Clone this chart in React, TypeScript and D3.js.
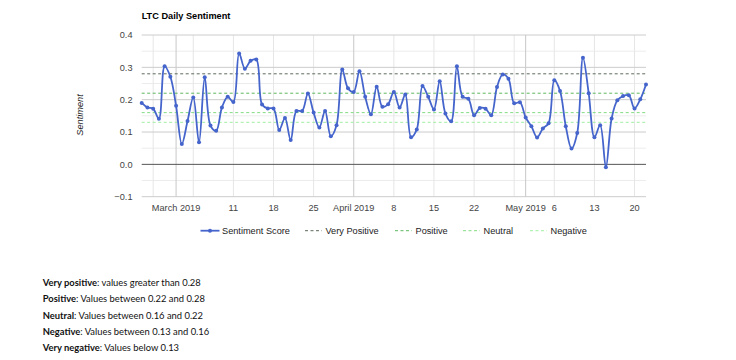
import React from "react";
import * as d3 from "d3";

const startDate = "2019-02-23";
const sentiment: number[] = [
  0.190, 0.176, 0.172, 0.141, 0.303, 0.271,
  0.181, 0.063, 0.134, 0.207, 0.068, 0.269, 0.120, 0.104, 0.176, 0.209,
  0.193, 0.343, 0.296, 0.320, 0.324, 0.185, 0.173, 0.173, 0.106, 0.143,
  0.075, 0.165, 0.165, 0.219, 0.160, 0.114, 0.165, 0.087, 0.121, 0.293,
  0.235,
  0.224, 0.288, 0.209, 0.155, 0.240, 0.178, 0.186, 0.224, 0.176, 0.216,
  0.084, 0.108, 0.242, 0.209, 0.170, 0.257, 0.157, 0.133, 0.303, 0.209,
  0.203, 0.152, 0.174, 0.172, 0.152, 0.239, 0.278, 0.265, 0.189, 0.192,
  0.145, 0.118, 0.083, 0.111, 0.127, 0.260, 0.227, 0.118, 0.049, 0.097,
  0.330, 0.220, 0.084, 0.121, -0.009, 0.142, 0.198, 0.211, 0.214, 0.173,
  0.201, 0.247,
];

const thresholdNames = ["Very Positive", "Positive", "Neutral", "Negative"];
const thresholdValues = [0.28, 0.22, 0.16, 0.13];
const thresholdColors = ["#5d6b5d", "#5fb85f", "#84dc84", "#a3eea3"];

const yTicks = [-0.1, 0, 0.1, 0.2, 0.3, 0.4];
const yMinorTicks = [-0.05, 0.05, 0.15, 0.25, 0.35];

const weekGridDates = ["2019-02-25", "2019-03-04", "2019-03-11", "2019-03-18", "2019-03-25", "2019-04-08", "2019-04-15", "2019-04-22", "2019-04-29", "2019-05-06", "2019-05-13", "2019-05-20"];
const monthGridDates = ["2019-03-01", "2019-04-01", "2019-05-01"];
const xLabelDates = ["2019-03-01", "2019-03-11", "2019-03-18", "2019-03-25", "2019-04-01", "2019-04-08", "2019-04-15", "2019-04-22", "2019-05-01", "2019-05-06", "2019-05-13", "2019-05-20"];
const xLabels = ["March 2019", "11", "18", "25", "April 2019", "8", "15", "22", "May 2019", "6", "13", "20"];

const notesBold = ["Very positive", "Positive", "Neutral", "Negative", "Very negative"];
const notesText = [
  ": values greater than 0.28",
  ": Values between 0.22 and 0.28",
  ": Values between 0.16 and 0.22",
  ": Values between 0.13 and 0.16",
  ": Values below 0.13",
];

const parse = (s: string) => new Date(s + "T00:00:00Z");

export default function App() {
  const W = 736, H = 360;
  const left = 141.7, right = 646, top = 35, bottom = 196.7;
  const t0 = parse(startDate);
  const dates = sentiment.map((_, i) => d3.utcDay.offset(t0, i));
  const x = d3.scaleUtc().domain([dates[0], dates[dates.length - 1]]).range([left, right]);
  const y = d3.scaleLinear().domain([-0.1, 0.4]).range([bottom, top]);
  const pts: [number, number][] = sentiment.map((v, i) => [x(dates[i]), y(v)]);
  const line = d3.line().curve(d3.curveCatmullRom.alpha(0.5))(pts) || "";
  const font = "'Liberation Sans', Arial, sans-serif";
  const blue = "#4565cc";

  const legendX = [200.5, 305, 395, 463, 530];

  return (
    <svg width={W} height={H} style={{ position: "absolute", left: 0, top: 0, background: "#fff" }} fontFamily={font}>
      <text x={left} y={19} fontSize={9.2} fontWeight="bold" fill="#000">LTC Daily Sentiment</text>
      {yMinorTicks.map((t) => (
        <line key={"ym" + t} x1={left} x2={right} y1={y(t)} y2={y(t)} stroke="#ececec" strokeWidth={1} />
      ))}
      {weekGridDates.map((d) => (
        <line key={"wg" + d} x1={x(parse(d))} x2={x(parse(d))} y1={top} y2={bottom} stroke="#e6e6e6" strokeWidth={1} />
      ))}
      {yTicks.filter((t) => t !== 0).map((t) => (
        <line key={"y" + t} x1={left} x2={right} y1={y(t)} y2={y(t)} stroke="#cccccc" strokeWidth={1} />
      ))}
      {monthGridDates.map((d) => (
        <line key={"mg" + d} x1={x(parse(d))} x2={x(parse(d))} y1={top} y2={bottom} stroke="#c8c8c8" strokeWidth={1} />
      ))}
      <line x1={left} x2={right} y1={y(0)} y2={y(0)} stroke="#555" strokeWidth={1} />
      {yTicks.map((t) => (
        <text key={"yl" + t} x={132.5} y={y(t) + 3.3} fontSize={9.2} textAnchor="end" fill="#444">{d3.format(".1f")(t)}</text>
      ))}
      <text transform={`translate(83,115) rotate(-90)`} fontSize={9.2} fontStyle="italic" textAnchor="middle" fill="#222">Sentiment</text>
      {xLabelDates.map((d, i) => (
        <text key={"xl" + d} x={x(parse(d))} y={211} fontSize={9.2} textAnchor="middle" fill="#444">{xLabels[i]}</text>
      ))}
      {thresholdValues.map((v, i) => (
        <line key={"th" + i} x1={left} x2={right} y1={y(v)} y2={y(v)} stroke={thresholdColors[i]} strokeWidth={1} strokeDasharray="3,2.5" />
      ))}
      <path d={line} fill="none" stroke={blue} strokeWidth={1.8} />
      {pts.map((p, i) => (
        <circle key={"p" + i} cx={p[0]} cy={p[1]} r={2} fill={blue} />
      ))}
      {/* legend */}
      <g>
        <line x1={legendX[0]} x2={legendX[0] + 19} y1={230.7} y2={230.7} stroke={blue} strokeWidth={1.8} />
        <circle cx={legendX[0] + 9.5} cy={230.7} r={2} fill={blue} />
        <text x={legendX[0] + 21.5} y={234} fontSize={9.2} fill="#222">Sentiment Score</text>
        {thresholdNames.map((n, i) => (
          <g key={"lg" + i}>
            <line x1={legendX[i + 1]} x2={legendX[i + 1] + 17} y1={230.7} y2={230.7} stroke={thresholdColors[i]} strokeWidth={1} strokeDasharray="3,2.5" />
            <text x={legendX[i + 1] + 20.5} y={234} fontSize={9.2} fill="#222">{n}</text>
          </g>
        ))}
      </g>
      {notesBold.map((b, i) => (
        <text key={"n" + i} x={42.7} y={286 + i * 16.3} fontSize={9.4} fontFamily="Lato, 'Open Sans', sans-serif" fill="#111">
          <tspan fontWeight="bold">{b}</tspan>
          <tspan>{notesText[i]}</tspan>
        </text>
      ))}
    </svg>
  );
}
